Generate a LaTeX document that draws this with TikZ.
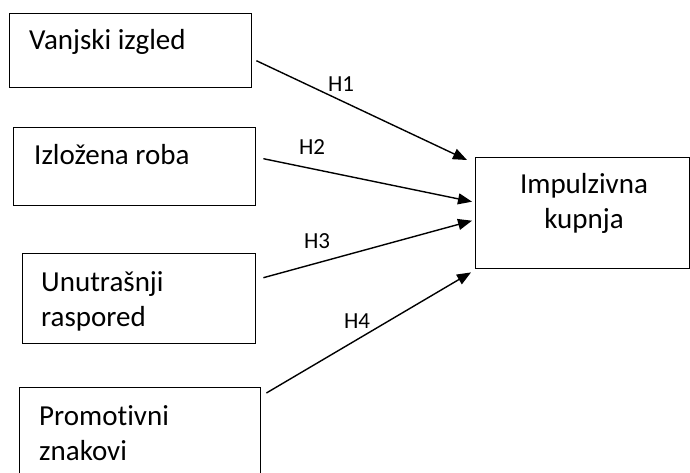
\documentclass[tikz,border=0pt]{standalone}
\usepackage{fontspec}
\setmainfont{Carlito}[Ligatures=NoCommon]
\usetikzlibrary{arrows.meta,calc}
\begin{document}
\begin{tikzpicture}[x=1pt,y=-1pt,
  box/.style={draw, line width=1.4pt, rectangle, inner sep=0pt, anchor=north west},
  lbl/.style={font=\fontsize{29}{34.5}\selectfont, inner sep=0pt, anchor=base west, align=left},
  hyp/.style={font=\fontsize{23}{28}\selectfont, inner sep=0pt, anchor=base},
  arr/.style={line width=1.4pt, -{Triangle[length=14pt,width=11pt]}}]
\clip (0,0) rectangle (690,473);
\node[box, minimum width=242pt, minimum height=74pt] (b1) at (9,13) {};
\node[box, minimum width=242pt, minimum height=78pt] (b2) at (13,127) {};
\node[box, minimum width=233pt, minimum height=90pt] (b3) at (22,253) {};
\node[box, minimum width=241pt, minimum height=120pt] (b4) at (19,387) {};
\node[box, minimum width=214pt, minimum height=111pt] (r) at (475,157) {};
\node[lbl] (t1) at (29,50) {Vanjski izgled};
\node[lbl] (t2) at (34,165) {Izložena roba};
\node[lbl] (t3) at (41,326) {Unutrašnji\\raspored};
\node[lbl] (t4) at (39,460) {Promotivni\\znakovi};
\node[lbl, anchor=base, align=center] (t5) at (584,228) {Impulzivna\\kupnja};
\draw[arr] ([shift={(4,10)}]b1.east) -- ([shift={(-8,3)}]r.north west);
\draw[arr] ([shift={(7,-8)}]b2.east) -- ([shift={(-3,-11.5)}]r.west);
\draw[arr] ([shift={(7,-21)}]b3.east) -- ([shift={(-3,7.5)}]r.west);
\draw[arr] ([shift={(5,6)}]b4.north east) -- ([shift={(-4,3)}]r.south west);
\node[hyp] (h1) at (341,92) {H1};
\node[hyp] (h2) at (312,155) {H2};
\node[hyp] (h3) at (317,248) {H3};
\node[hyp] (h4) at (357,328) {H4};
\end{tikzpicture}
\end{document}
